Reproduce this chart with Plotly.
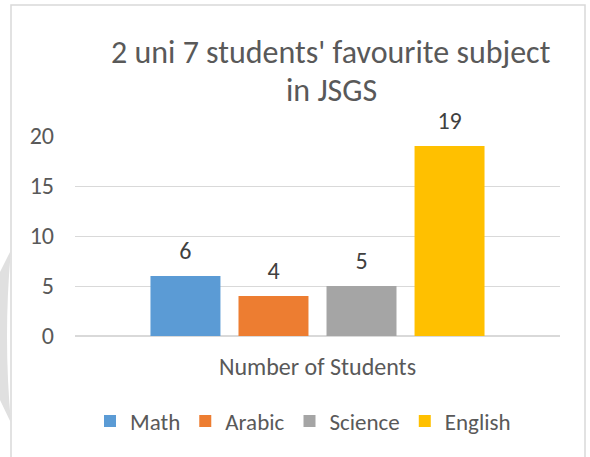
import plotly.graph_objects as go

W, H = 590, 457

categories = ["Number of Students"]
series_names = ["Math", "Arabic", "Science", "English"]
series_values = [[6], [4], [5], [19]]
series_colors = ["#5B9BD5", "#ED7D31", "#A5A5A5", "#FFC000"]
y_ticks = [0, 5, 10, 15, 20]
title_lines = ["2 uni 7 students' favourite subject", "in JSGS"]

FONT = "Carlito, Calibri, Open Sans, sans-serif"
GAP = 0.274

def px(x):
    return x / W

def py(y):
    return 1 - y / H

fig = go.Figure()
for name, vals, col in zip(series_names, series_values, series_colors):
    fig.add_trace(go.Bar(
        name=name, x=categories, y=vals, marker_color=col,
        marker_line_width=0,
    ))
for name, vals in zip(series_names, series_values):
    fig.add_trace(go.Scatter(
        name=name + " label", x=categories, y=vals, mode="markers+text",
        marker=dict(size=16, opacity=0), showlegend=False, hoverinfo="skip",
        text=[str(v) for v in vals], textposition="top center",
        textfont=dict(family=FONT, size=24, color="#404040"),
        cliponaxis=False,
    ))

crescent = "M {},{} Q {},{} {},{} L {},{} L {},{} Z".format(
    px(11), py(250), px(3), py(337), px(11), py(423), px(0), py(400), px(0), py(272))

fig.update_layout(
    width=W, height=H,
    margin=dict(l=0, r=0, t=0, b=0, autoexpand=False),
    paper_bgcolor="white", plot_bgcolor="white",
    barmode="group", bargap=GAP, bargroupgap=0.205,
    scattermode="group", scattergap=GAP,
    font=dict(family=FONT, size=24, color="#595959"),
    showlegend=True,
    legend=dict(orientation="h", x=px(303), xanchor="center", y=py(421), yanchor="middle",
                font=dict(family=FONT, size=23, color="#595959"), traceorder="normal"),
    xaxis=dict(domain=[px(75), px(560)], showgrid=False, showline=False, zeroline=False,
               ticks="", ticklabelstandoff=14, automargin=False,
               tickfont=dict(family=FONT, size=24, color="#595959")),
    yaxis=dict(domain=[py(336), py(136)], range=[0, 20], tickvals=y_ticks,
               showgrid=True, gridcolor="#D9D9D9", gridwidth=1,
               zeroline=True, zerolinecolor="#D9D9D9", zerolinewidth=1.5,
               showline=False, ticks="", ticklabelstandoff=20, automargin=False,
               tickfont=dict(family=FONT, size=24, color="#595959")),
    shapes=[
        dict(type="rect", xref="paper", yref="paper", x0=px(11), x1=px(585), y0=py(470), y1=py(5),
             line=dict(color="#D9D9D9", width=1.5), fillcolor="rgba(0,0,0,0)", layer="below"),
        dict(type="path", xref="paper", yref="paper", path=crescent,
             fillcolor="#E0E0E0", line=dict(width=0), layer="below"),
    ],
    annotations=[
        dict(text=title_lines[0], xref="paper", yref="paper", x=px(331), y=py(52),
             xanchor="center", yanchor="middle", showarrow=False,
             font=dict(family=FONT, size=32, color="#595959")),
        dict(text=title_lines[1], xref="paper", yref="paper", x=px(331), y=py(90),
             xanchor="center", yanchor="middle", showarrow=False,
             font=dict(family=FONT, size=32, color="#595959")),
    ],
)

fig.write_html("out.html", config={"displayModeBar": False},
               post_script="document.body.style.margin='0';")
